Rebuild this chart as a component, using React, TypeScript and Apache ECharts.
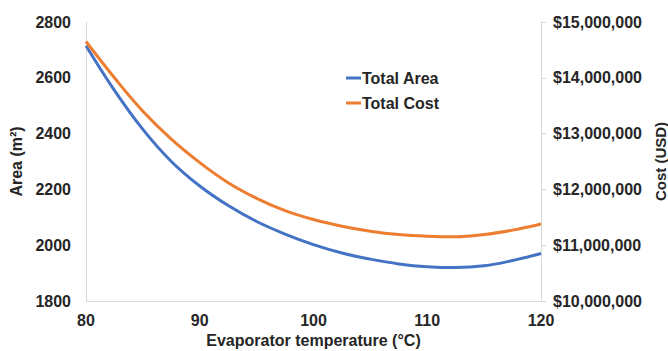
import React, { useEffect, useRef } from "react";
import * as echarts from "echarts";

const temperatures = [80, 82.5, 85, 87.5, 90, 92.5, 95, 97.5, 100, 102.5, 105, 107.5, 110, 112.5, 115, 117.5, 120];
const totalArea = [2715, 2555, 2415, 2300, 2212, 2142, 2085, 2040, 2002, 1972, 1950, 1933, 1923, 1920, 1926, 1945, 1970];
const totalCostMillions = [14.65, 14.0, 13.4, 12.9, 12.48, 12.12, 11.84, 11.62, 11.46, 11.34, 11.25, 11.19, 11.16, 11.15, 11.19, 11.27, 11.38];

const FONT = "Liberation Sans, Arial, sans-serif";
const TXT = "#262626";

export default function App() {
  const ref = useRef<HTMLDivElement>(null);
  useEffect(() => {
    if (!ref.current) return;
    const chart = echarts.init(ref.current, undefined, { renderer: "svg" });
    chart.setOption({
      animation: false,
      backgroundColor: "#ffffff",
      textStyle: { fontFamily: FONT },
      grid: { left: 86, right: 127, top: 22, bottom: 50, containLabel: false, outerBoundsMode: "none" },
      legend: {
        orient: "vertical",
        left: 341,
        top: 65,
        itemWidth: 15,
        itemHeight: 3,
        itemGap: 9,
        icon: "rect",
        textStyle: { fontFamily: FONT, fontSize: 16, fontWeight: "bold", color: TXT, padding: [0, 0, 0, -4] },
        data: ["Total Area", "Total Cost"],
      },
      xAxis: {
        type: "value",
        min: 80,
        max: 120,
        interval: 10,
        name: "Evaporator temperature (°C)",
        nameLocation: "middle",
        nameGap: 31,
        nameTextStyle: { fontFamily: FONT, fontSize: 16, fontWeight: "bold", color: TXT },
        axisLine: { show: true, lineStyle: { color: "#d9d9d9", width: 1 } },
        axisTick: { show: false },
        splitLine: { show: false },
        axisLabel: { fontFamily: FONT, fontSize: 16, fontWeight: "bold", color: TXT, margin: 11 },
      },
      yAxis: [
        {
          type: "value",
          min: 1800,
          max: 2800,
          interval: 200,
          name: "Area (m²)",
          nameLocation: "middle",
          nameGap: 60,
          nameTextStyle: { fontFamily: FONT, fontSize: 16, fontWeight: "bold", color: TXT },
          axisLine: { show: true, lineStyle: { color: "#d9d9d9", width: 1 } },
          axisTick: { show: false },
          splitLine: { show: false },
          axisLabel: {
            fontFamily: FONT,
            fontSize: 16,
            fontWeight: "bold",
            color: TXT,
            margin: 15,
            formatter: (v: number) => String(v),
          },
        },
        {
          type: "value",
          position: "right",
          min: 10000000,
          max: 15000000,
          interval: 1000000,
          name: "Cost (USD)",
          nameLocation: "middle",
          nameGap: 104,
          nameTextStyle: { fontFamily: FONT, fontSize: 15, fontWeight: "bold", color: TXT },
          axisLine: { show: true, lineStyle: { color: "#d9d9d9", width: 1 } },
          axisTick: { show: true, length: 5, lineStyle: { color: "#d9d9d9" } },
          splitLine: { show: false },
          axisLabel: {
            fontFamily: FONT,
            fontSize: 16,
            fontWeight: "bold",
            color: TXT,
            margin: 12,
            formatter: (v: number) => "$" + Math.round(v).toLocaleString("en-US"),
          },
        },
      ],
      series: [
        {
          name: "Total Area",
          type: "line",
          yAxisIndex: 0,
          smooth: 0.4,
          showSymbol: false,
          lineStyle: { width: 3, color: "#4472C4" },
          itemStyle: { color: "#4472C4" },
          data: temperatures.map((t, i) => [t, totalArea[i]]),
        },
        {
          name: "Total Cost",
          type: "line",
          yAxisIndex: 1,
          smooth: 0.4,
          showSymbol: false,
          lineStyle: { width: 3, color: "#ED7D31" },
          itemStyle: { color: "#ED7D31" },
          data: temperatures.map((t, i) => [t, totalCostMillions[i] * 1000000]),
        },
      ],
    });
    return () => chart.dispose();
  }, []);
  return <div ref={ref} style={{ position: "fixed", left: 0, top: 0, width: 668, height: 351 }} />;
}
